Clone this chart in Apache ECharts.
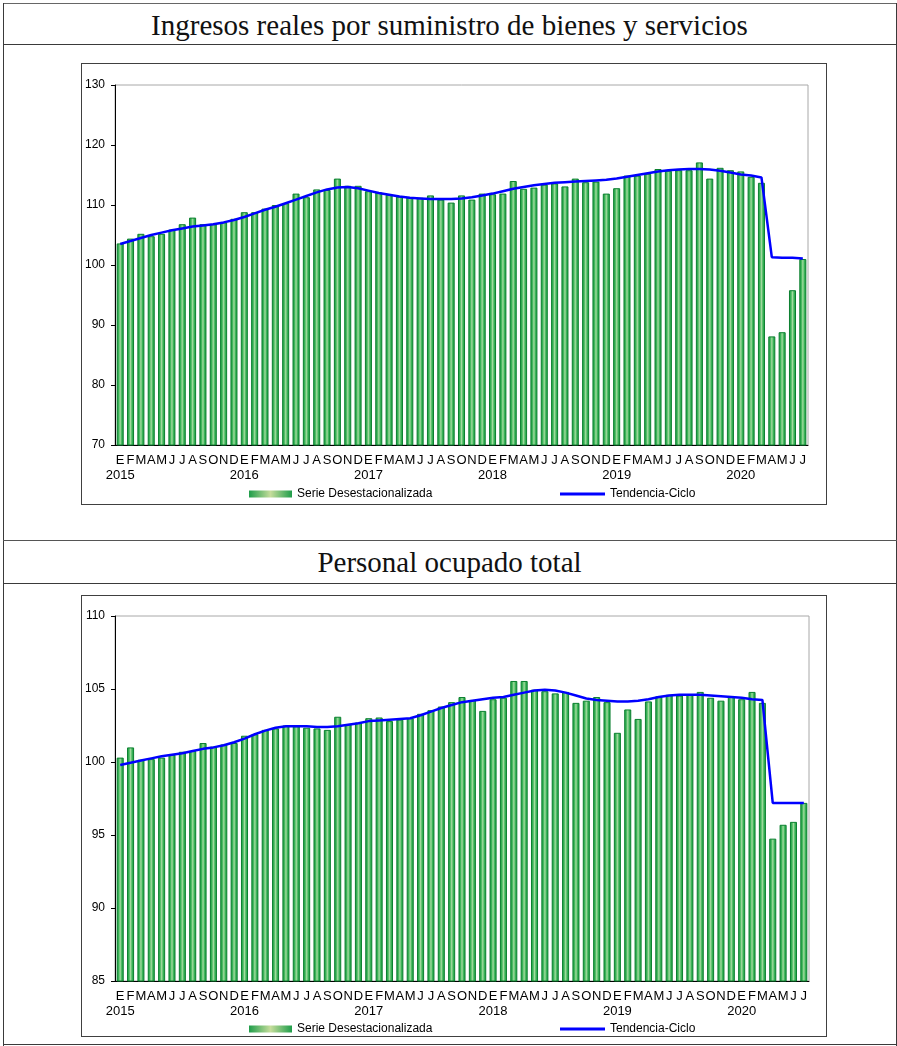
<!DOCTYPE html>
<html>
<head>
<meta charset="utf-8">
<script src="https://cdn.jsdelivr.net/npm/echarts@6/dist/echarts.min.js"></script>
<style>
  body { margin: 0; background: #fff; }
  .rule { position: absolute; background: #3a3a3a; }
  .title {
    position: absolute; left: 4px; width: 891px; text-align: center;
    font-family: 'Liberation Serif', 'Times New Roman', serif; font-size: 29px; color: #111;
  }
  .frame { position: absolute; left: 81px; width: 744px; height: 440px; border: 1px solid #404040; }
  .chart { position: absolute; left: 0; top: 0; width: 744px; height: 440px; }
</style>
</head>
<body>
<!-- table lines -->
<div class="rule" style="left:3px;top:3px;width:894px;height:1px;background:#666"></div>
<div class="rule" style="left:3px;top:3px;width:1px;height:1043px"></div>
<div class="rule" style="left:896px;top:3px;width:1px;height:1043px"></div>
<div class="rule" style="left:3px;top:44px;width:894px;height:1px"></div>
<div class="rule" style="left:3px;top:540px;width:894px;height:1px;background:#555"></div>
<div class="rule" style="left:3px;top:583px;width:894px;height:1px"></div>
<div class="rule" style="left:3px;top:1044px;width:894px;height:1px"></div>

<div class="title" style="top:5px;line-height:40px;">Ingresos reales por suministro de bienes y servicios</div>
<div class="title" style="top:541px;line-height:42px;">Personal ocupado total</div>

<div class="frame" style="top:63px;"><div class="chart" id="chart-ingresos"></div></div>
<div class="frame" style="top:595px;"><div class="chart" id="chart-personal"></div></div>

<script>
// meses (enero 2015 - julio 2020)
var monthLetters = ['E', 'F', 'M', 'A', 'M', 'J', 'J', 'A', 'S', 'O', 'N', 'D'];
var years = ['2015', '2016', '2017', '2018', '2019', '2020'];
var nMonths = 67;

// Ingresos reales por suministro de bienes y servicios
var ingresosSerie = [
  103.6, 104.4, 105.2, 104.8, 105.2, 105.9, 106.8, 107.9, 106.8, 106.8, 107.1, 107.7,
  108.8, 108.8, 109.4, 110.0, 110.3, 111.9, 111.3, 112.6, 112.5, 114.4, 113.2, 113.2,
  112.3, 112.1, 111.7, 111.4, 111.3, 111.2, 111.6, 110.9, 110.4, 111.6, 110.9, 111.9,
  111.8, 111.9, 114.0, 112.7, 112.9, 113.4, 113.6, 113.1, 114.4, 113.8, 113.9, 111.9,
  112.8, 114.9, 114.9, 115.2, 116.0, 115.7, 115.8, 115.8, 117.1, 114.4, 116.2, 115.8,
  115.6, 114.7, 113.7, 88.1, 88.8, 95.8, 101.0
];
var ingresosTendencia = [
  103.5, 104.0, 104.5, 105.0, 105.4, 105.8, 106.1, 106.4, 106.6, 106.8, 107.1, 107.5,
  108.0, 108.6, 109.2, 109.7, 110.3, 110.9, 111.5, 112.1, 112.6, 112.9, 113.0, 112.8,
  112.4, 112.0, 111.7, 111.4, 111.2, 111.1, 111.0, 111.0, 111.0, 111.1, 111.3, 111.6,
  111.9, 112.3, 112.7, 113.0, 113.3, 113.5, 113.7, 113.8, 113.9, 114.0, 114.1, 114.2,
  114.4, 114.7, 115.0, 115.3, 115.6, 115.8, 115.9, 116.0, 116.0, 115.9, 115.7, 115.4,
  115.1, 114.9, 114.6, 101.3, 101.2, 101.2, 101.1
];

// Personal ocupado total
var personalSerie = [
  100.3, 101.0, 100.15, 100.2, 100.3, 100.5, 100.7, 100.75, 101.3, 101.05, 101.2, 101.3,
  101.8, 101.9, 102.2, 102.3, 102.5, 102.45, 102.35, 102.3, 102.2, 103.1, 102.6, 102.7,
  103.0, 103.05, 102.8, 102.9, 103.0, 103.3, 103.55, 103.8, 104.1, 104.45, 104.25, 103.5,
  104.3, 104.4, 105.55, 105.55, 104.95, 104.85, 104.7, 104.8, 104.05, 104.2, 104.45, 104.1,
  102.0, 103.6, 102.95, 104.15, 104.5, 104.6, 104.55, 104.6, 104.8, 104.4, 104.2, 104.5,
  104.3, 104.8, 104.05, 94.75, 95.7, 95.9, 97.2
];
var personalTendencia = [
  99.8, 99.95, 100.1, 100.25, 100.4, 100.5, 100.6, 100.75, 100.9, 101.0, 101.15, 101.35,
  101.6, 101.9, 102.15, 102.35, 102.45, 102.45, 102.45, 102.4, 102.4, 102.45, 102.55, 102.65,
  102.8, 102.85, 102.9, 102.95, 103.0, 103.2, 103.45, 103.7, 103.9, 104.1, 104.2, 104.3,
  104.4, 104.45, 104.6, 104.75, 104.9, 104.95, 104.9, 104.75, 104.55, 104.35, 104.25, 104.2,
  104.15, 104.15, 104.2, 104.3, 104.45, 104.55, 104.6, 104.6, 104.6, 104.55, 104.5, 104.45,
  104.4, 104.3, 104.25, 97.2, 97.2, 97.2, 97.2
];

var categories = [];
for (var i = 0; i < nMonths; i++) {
  var m = monthLetters[i % 12];
  categories.push(i % 12 === 0 ? m + '\n' + years[i / 12] : m);
}

var barColor = new echarts.graphic.LinearGradient(0, 0, 1, 0, [
  { offset: 0, color: '#1b9a40' },
  { offset: 0.28, color: '#3bb458' },
  { offset: 0.5, color: '#a4dba0' },
  { offset: 0.72, color: '#3bb458' },
  { offset: 1, color: '#1b9a40' }
]);
var legendBarColor = new echarts.graphic.LinearGradient(0, 0, 1, 0, [
  { offset: 0, color: '#1f9d4a' },
  { offset: 0.5, color: '#c6dd9c' },
  { offset: 1, color: '#1f9d4a' }
]);

function makeOption(serie, tendencia, yMin, yMax, yStep, gridTop, gridHeight, gridWidth, legendTop) {
  return {
    animation: false,
    textStyle: { fontFamily: 'Liberation Sans, Arial, sans-serif' },
    grid: {
      left: 31, top: gridTop, width: gridWidth, height: gridHeight,
      show: true, borderColor: '#a8a8a8', borderWidth: 1
    },
    legend: [
      {
        data: ['Serie Desestacionalizada'],
        left: 162, top: legendTop,
        icon: 'rect',
        itemWidth: 43, itemHeight: 7, itemGap: 5,
        itemStyle: { color: legendBarColor, borderWidth: 0 },
        textStyle: { color: '#000', fontSize: 12 }
      },
      {
        data: ['Tendencia-Ciclo'],
        left: 473, top: legendTop,
        icon: 'rect',
        itemWidth: 45, itemHeight: 3,
        itemStyle: { color: '#0000ff' },
        textStyle: { color: '#000', fontSize: 12 }
      }
    ],
    xAxis: {
      type: 'category',
      data: categories,
      boundaryGap: true,
      axisLine: { lineStyle: { color: '#000', width: 1 } },
      axisTick: {
        interval: function (index) { return index % 12 === 0; },
        length: 4,
        lineStyle: { color: '#000' }
      },
      axisLabel: {
        interval: 0, color: '#000', fontSize: 13, lineHeight: 15, margin: 8
      }
    },
    yAxis: {
      type: 'value',
      min: yMin, max: yMax, interval: yStep,
      axisLine: { show: true, lineStyle: { color: '#000' } },
      axisTick: { show: true, length: 4, lineStyle: { color: '#000' } },
      splitLine: { show: false },
      axisLabel: { color: '#000', fontSize: 12, margin: 10 }
    },
    series: [
      {
        name: 'Serie Desestacionalizada',
        type: 'bar',
        data: serie,
        barCategoryGap: '32%',
        itemStyle: { color: barColor, borderColor: '#0c8030', borderWidth: 1 }
      },
      {
        name: 'Tendencia-Ciclo',
        type: 'line',
        data: tendencia,
        symbol: 'none',
        z: 5,
        lineStyle: { color: '#0000ff', width: 2.5 },
        itemStyle: { color: '#0000ff' }
      }
    ]
  };
}

var chartIngresos = echarts.init(document.getElementById('chart-ingresos'), null, { renderer: 'canvas' });
chartIngresos.setOption(makeOption(ingresosSerie, ingresosTendencia, 70, 130, 10, 21, 360, 695, 419));

var chartPersonal = echarts.init(document.getElementById('chart-personal'), null, { renderer: 'canvas' });
chartPersonal.setOption(makeOption(personalSerie, personalTendencia, 85, 110, 5, 20, 365, 696, 422));

window.addEventListener('resize', function () {
  chartIngresos.resize();
  chartPersonal.resize();
});
</script>
</body>
</html>
